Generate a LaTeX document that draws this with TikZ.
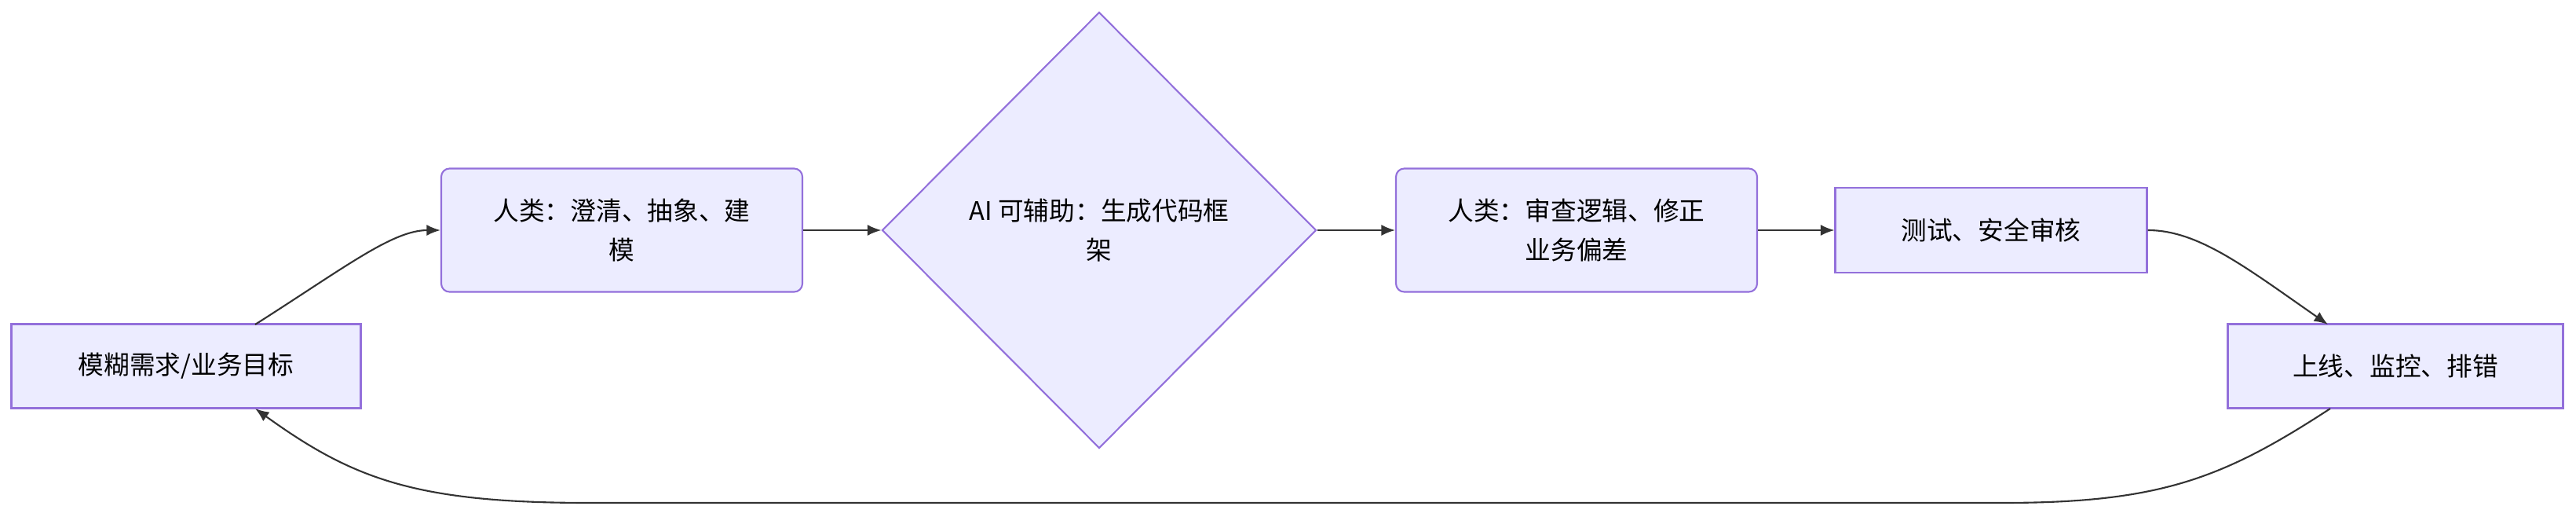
\documentclass[tikz,border=0pt]{standalone}
\usepackage{fontspec}
\setmainfont{Noto Sans CJK SC}
\usetikzlibrary{shapes.geometric,arrows.meta}
\definecolor{boxfill}{HTML}{ECECFF}
\definecolor{boxline}{HTML}{9370DB}
\definecolor{edge}{HTML}{333333}
\tikzset{
  stage/.style={draw=boxline,fill=boxfill,line width=0.6pt,align=center,font=\fontsize{9.3}{14}\selectfont,inner sep=0pt},
  decide/.style={diamond,draw=boxline,fill=boxfill,line width=0.6pt,align=center,font=\fontsize{9.3}{14}\selectfont,inner sep=0pt,minimum width=5.53cm,minimum height=5.55cm,aspect=1},
  link/.style={draw=edge,line width=0.6pt,-{Latex[length=5pt,width=4pt]}}
}
\begin{document}
\begin{tikzpicture}
\useasboundingbox (0,0) rectangle (32.81,-6.58);
	%start
	\node[stage,minimum width=4.45cm,minimum height=1.07cm] (need) at (2.37,-4.66) {模糊需求/业务目标};
	%human modelling
	\node[stage,rounded corners=3pt,minimum width=4.6cm,minimum height=1.57cm] (model) at (7.92,-2.93) {人类：澄清、抽象、建\\模};
	%ai
	\node[decide] (ai) at (14.0,-2.93) {AI 可辅助：生成代码框\\架};
	%review
	\node[stage,rounded corners=3pt,minimum width=4.6cm,minimum height=1.57cm] (review) at (20.08,-2.93) {人类：审查逻辑、修正\\业务偏差};
	%test
	\node[stage,minimum width=3.97cm,minimum height=1.08cm] (test) at (25.36,-2.93) {测试、安全审核};
	%deploy
	\node[stage,minimum width=4.27cm,minimum height=1.07cm] (ship) at (30.51,-4.66) {上线、监控、排错};

	\coordinate (needtop) at (3.25,-4.13);
	\coordinate (needbot) at (3.25,-5.2);
	\coordinate (shiptop) at (29.65,-4.13);
	\coordinate (shipbot) at (29.68,-5.2);

	\draw[link] (needtop) .. controls (4.4,-3.4) and (5.0,-2.93) .. (model.west);
	\draw[link] (model) -- (ai);
	\draw[link] (ai) -- (review);
	\draw[link] (review) -- (test);
	\draw[link] (test.east) .. controls (28.0,-2.93) and (28.6,-3.4) .. (shiptop);
	\draw[link] (shipbot) .. controls (28.3,-6.1) and (27.5,-6.4) .. (25.5,-6.4) -- (7.5,-6.4) .. controls (5.3,-6.4) and (4.5,-6.1) .. (needbot);
\end{tikzpicture}
\end{document}
